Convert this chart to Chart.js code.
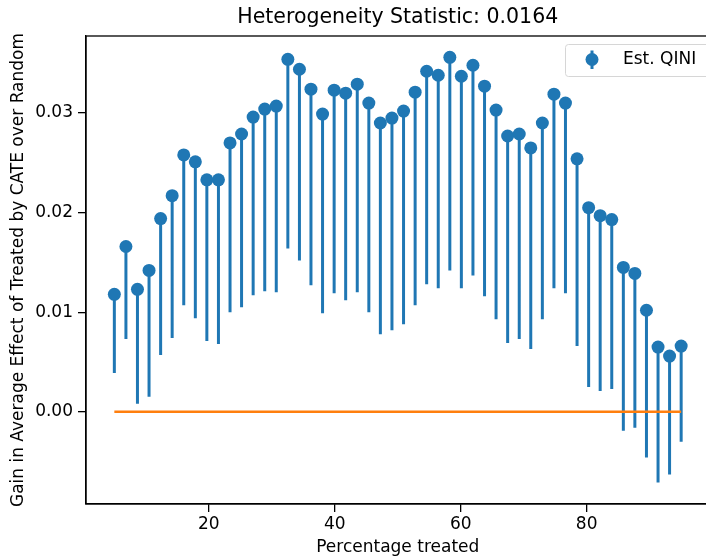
<!DOCTYPE html>
<html>
<head>
<meta charset="utf-8">
<title>Heterogeneity Statistic</title>
<script src="https://cdn.jsdelivr.net/npm/chart.js@4.4.1/dist/chart.umd.min.js"></script>
<style>
  html, body { margin: 0; padding: 0; background: #fff; overflow: hidden; }
  #wrap { width: 716px; height: 560px; }
</style>
</head>
<body>
<div id="wrap"><canvas id="qini"></canvas></div>
<script>
// percentage of population treated (x positions of the estimates)
const pcts = [5, 6.84, 8.67, 10.51, 12.35, 14.18, 16.02, 17.86, 19.69, 21.53,
  23.37, 25.2, 27.04, 28.88, 30.71, 32.55, 34.39, 36.22, 38.06, 39.9,
  41.73, 43.57, 45.41, 47.24, 49.08, 50.92, 52.76, 54.59, 56.43, 58.27,
  60.1, 61.94, 63.78, 65.61, 67.45, 69.29, 71.12, 72.96, 74.8, 76.63,
  78.47, 80.31, 82.14, 83.98, 85.82, 87.65, 89.49, 91.33, 93.16, 95];

// estimated QINI gain at each percentage
const qini = [0.0118, 0.0166, 0.0123, 0.0142, 0.0194, 0.0217, 0.0258, 0.0251, 0.0233, 0.0233,
  0.0270, 0.0279, 0.0296, 0.0304, 0.0307, 0.0354, 0.0344, 0.0324, 0.0299, 0.0323,
  0.0320, 0.0329, 0.0310, 0.0290, 0.0295, 0.0302, 0.0321, 0.0342, 0.0338, 0.0356,
  0.0337, 0.0348, 0.0327, 0.0303, 0.0277, 0.0279, 0.0265, 0.0290, 0.0319, 0.0310,
  0.0254, 0.0205, 0.0197, 0.0193, 0.0145, 0.0139, 0.0102, 0.0065, 0.0056, 0.0066];

// lower end of the one-sided confidence band
const qiniLower = [0.0039, 0.0073, 0.0008, 0.0015, 0.0057, 0.0074, 0.0107, 0.0094, 0.0071, 0.0068,
  0.0100, 0.0105, 0.0117, 0.0121, 0.0120, 0.0164, 0.0152, 0.0127, 0.0099, 0.0119,
  0.0112, 0.0120, 0.0100, 0.0078, 0.0082, 0.0088, 0.0107, 0.0128, 0.0124, 0.0142,
  0.0124, 0.0137, 0.0116, 0.0093, 0.0069, 0.0073, 0.0063, 0.0093, 0.0124, 0.0119,
  0.0066, 0.0025, 0.0021, 0.0023, -0.0019, -0.0016, -0.0046, -0.0071, -0.0063, -0.0030];

const xTicks = [20, 40, 60, 80];
const yTicks = [0, 0.01, 0.02, 0.03];

const titleText = 'Heterogeneity Statistic: 0.0164';
const legendText = 'Est. QINI';

const BLUE = '#1f77b4';
const ORANGE = '#ff7f0e';
const FONT = "'DejaVu Sans', sans-serif";

// vertical segments lower -> estimate, broken by null points
const errSegments = [];
pcts.forEach((p, i) => {
  errSegments.push({x: p, y: qiniLower[i]});
  errSegments.push({x: p, y: qini[i]});
  errSegments.push({x: p, y: null});
});

const framePlugin = {
  id: 'frame',
  afterDraw(chart) {
    const {ctx, chartArea: a} = chart;
    ctx.save();
    ctx.strokeStyle = '#000';
    ctx.lineWidth = 1.3;
    ctx.strokeRect(a.left, a.top, a.right - a.left, a.bottom - a.top);

    // title centred on the plot area
    ctx.fillStyle = '#000';
    ctx.font = '20.5px ' + FONT;
    ctx.textAlign = 'center';
    ctx.textBaseline = 'middle';
    ctx.fillText(titleText, (a.left + a.right) / 2, 18);

    // legend box, upper right
    const bx = 565, by = 44, bw = 146, bh = 32;
    ctx.fillStyle = 'rgba(255,255,255,0.8)';
    ctx.strokeStyle = '#d6d6d6';
    ctx.lineWidth = 1;
    ctx.beginPath();
    ctx.roundRect(bx + 0.5, by + 0.5, bw, bh, 3);
    ctx.fill();
    ctx.stroke();
    ctx.strokeStyle = BLUE;
    ctx.lineWidth = 3;
    ctx.beginPath();
    ctx.moveTo(592, 50.5);
    ctx.lineTo(592, 69);
    ctx.stroke();
    ctx.fillStyle = BLUE;
    ctx.beginPath();
    ctx.arc(592, 59.5, 6.5, 0, Math.PI * 2);
    ctx.fill();
    ctx.fillStyle = '#000';
    ctx.font = '17px ' + FONT;
    ctx.textAlign = 'left';
    ctx.fillText(legendText, 623, 60);
    ctx.restore();
  }
};

new Chart(document.getElementById('qini'), {
  type: 'scatter',
  data: {
    datasets: [
      {
        label: 'zero',
        data: [{x: pcts[0], y: 0}, {x: pcts[pcts.length - 1], y: 0}],
        showLine: true,
        borderColor: ORANGE,
        borderWidth: 2.6,
        pointRadius: 0,
        order: 0
      },
      {
        label: legendText,
        data: pcts.map((p, i) => ({x: p, y: qini[i]})),
        backgroundColor: BLUE,
        borderWidth: 0,
        pointRadius: 6.5,
        pointHoverRadius: 6.5,
        order: 1
      },
      {
        label: 'band',
        data: errSegments,
        showLine: true,
        spanGaps: false,
        borderColor: BLUE,
        borderWidth: 3,
        pointRadius: 0,
        order: 2
      }
    ]
  },
  options: {
    responsive: true,
    maintainAspectRatio: false,
    animation: false,
    events: [],
    layout: {padding: {left: 0, top: 36, right: 2, bottom: 0}},
    plugins: {
      legend: {display: false},
      tooltip: {enabled: false}
    },
    scales: {
      x: {
        type: 'linear',
        min: 0.5,
        max: 99.5,
        afterBuildTicks: axis => { axis.ticks = xTicks.map(v => ({value: v})); },
        afterFit: scale => { scale.height = 56; },
        border: {display: true, color: '#000', width: 1.3},
        grid: {display: true, drawOnChartArea: false, drawTicks: true, tickLength: 8, color: '#000', lineWidth: 1.3},
        ticks: {color: '#000', font: {family: FONT, size: 17}, padding: 2, maxRotation: 0},
        title: {display: true, text: 'Percentage treated', color: '#000',
                font: {family: FONT, size: 17}, padding: {top: 0, bottom: 2}}
      },
      y: {
        type: 'linear',
        min: -0.00926,
        max: 0.03774,
        afterBuildTicks: axis => { axis.ticks = yTicks.map(v => ({value: v})); },
        afterFit: scale => { scale.width = 86; },
        border: {display: true, color: '#000', width: 1.3},
        grid: {display: true, drawOnChartArea: false, drawTicks: true, tickLength: 8, color: '#000', lineWidth: 1.3},
        ticks: {color: '#000', font: {family: FONT, size: 17}, padding: 5,
                callback: v => v.toFixed(2)},
        title: {display: true, text: 'Gain in Average Effect of Treated by CATE over Random', color: '#000',
                font: {family: FONT, size: 17}, padding: {top: 8, bottom: 0}}
      }
    }
  },
  plugins: [framePlugin]
});
</script>
</body>
</html>
